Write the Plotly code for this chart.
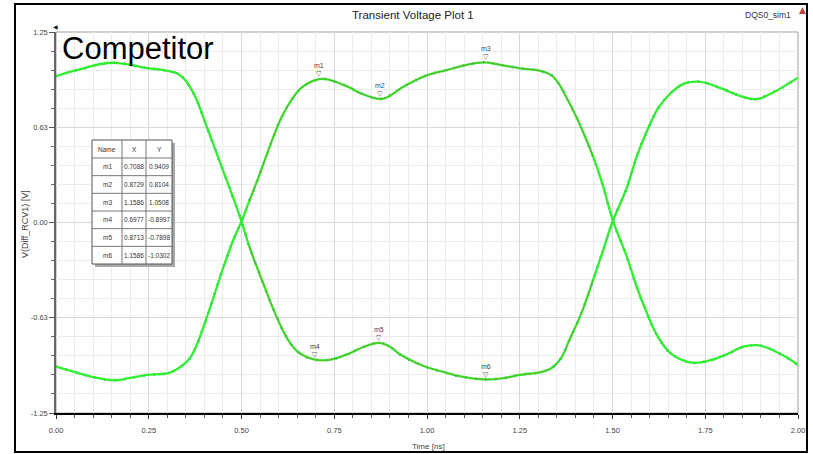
import plotly.graph_objects as go
import numpy as np

# ---------------- data ----------------
# Curve A: starts high, falls at 0.5 ns, rises at 1.5 ns
t_a = [0.00, 0.04, 0.08, 0.12, 0.16, 0.20, 0.24, 0.29, 0.32, 0.34, 0.361, 0.38, 0.406, 0.43,
       0.451, 0.478, 0.50, 0.52, 0.541, 0.565, 0.586, 0.61, 0.631, 0.655, 0.6977, 0.74, 0.79,
       0.83, 0.8713, 0.90, 0.93, 0.97, 1.00, 1.05, 1.09, 1.1586, 1.21, 1.25, 1.31, 1.336, 1.36,
       1.385, 1.417, 1.448, 1.475, 1.50, 1.538, 1.565, 1.592, 1.623, 1.655, 1.691, 1.727, 1.754,
       1.808, 1.844, 1.875, 1.898, 1.942, 1.97, 2.00]
v_a = [0.96, 0.99, 1.015, 1.04, 1.048, 1.035, 1.015, 1.0, 0.985, 0.955, 0.89, 0.80, 0.63, 0.475,
       0.335, 0.16, 0.007, -0.15, -0.29, -0.44, -0.57, -0.70, -0.79, -0.855, -0.8997, -0.90, -0.86,
       -0.815, -0.7898, -0.815, -0.87, -0.92, -0.95, -0.985, -1.01, -1.0302, -1.02, -1.0, -0.98,
       -0.955, -0.895, -0.765, -0.59, -0.375, -0.18, 0.005, 0.225, 0.43, 0.595, 0.75, 0.845, 0.91,
       0.925, 0.915, 0.865, 0.83, 0.81, 0.815, 0.865, 0.905, 0.95]

# Curve B: starts low, rises at 0.5 ns, falls at 1.5 ns
t_b = [0.00, 0.056, 0.10, 0.155, 0.20, 0.245, 0.30, 0.325, 0.345, 0.361, 0.38, 0.406, 0.428,
       0.451, 0.478, 0.50, 0.52, 0.541, 0.554, 0.577, 0.604, 0.631, 0.662, 0.7088, 0.739, 0.792,
       0.819, 0.8729, 0.891, 0.936, 0.999, 1.053, 1.107, 1.1586, 1.197, 1.251, 1.305, 1.336, 1.358,
       1.376, 1.403, 1.417, 1.448, 1.475, 1.502, 1.538, 1.565, 1.592, 1.619, 1.655, 1.713, 1.754,
       1.808, 1.852, 1.888, 1.915, 1.969, 2.00]
v_b = [-0.945, -0.985, -1.015, -1.035, -1.02, -1.0, -0.99, -0.965, -0.93, -0.89, -0.80, -0.625,
       -0.465, -0.295, -0.113, 0.007, 0.135, 0.265, 0.35, 0.505, 0.67, 0.79, 0.885, 0.9409, 0.935,
       0.885, 0.85, 0.8104, 0.82, 0.89, 0.965, 1.0, 1.035, 1.0508, 1.035, 1.012, 0.995, 0.965,
       0.90, 0.82, 0.69, 0.615, 0.43, 0.235, 0.005, -0.22, -0.42, -0.59, -0.735, -0.855, -0.92,
       -0.91, -0.865, -0.815, -0.805, -0.82, -0.885, -0.935]

marker_names = ["m1", "m2", "m3", "m4", "m5", "m6"]
marker_x = [0.7088, 0.8729, 1.1586, 0.6977, 0.8713, 1.1586]
marker_y = [0.9409, 0.8104, 1.0508, -0.8997, -0.7898, -1.0302]

x_tickvals = [0.0, 0.25, 0.5, 0.75, 1.0, 1.25, 1.5, 1.75, 2.0]
x_ticktext = ["0.00", "0.25", "0.50", "0.75", "1.00", "1.25", "1.50", "1.75", "2.00"]
y_tickvals = [-1.25, -0.625, 0.0, 0.625, 1.25]
y_ticktext = ["-1.25", "-0.63", "0.00", "0.63", "1.25"]

# ---------------- layout helpers ----------------
W, H = 813, 454
ML, MR, MT, MB = 56, 15, 32, 41
PW, PH = W - ML - MR, H - MT - MB


def px(x):
    return (x - ML) / PW


def py(y):
    return (H - MB - y) / PH


FONT = "Liberation Sans Narrow, Arial Narrow, Liberation Sans, Arial, sans-serif"
GREEN = "#2ff02f"
BLUE = "#3a5fd9"
RED = "#d0302a"

fig = go.Figure()

for tt, vv in [(t_a, v_a), (t_b, v_b)]:
    fig.add_trace(go.Scatter(x=tt, y=vv, mode="lines",
                             line=dict(color=BLUE, width=2.8, dash="1px,9px", shape="spline"),
                             hoverinfo="skip", showlegend=False))
    fig.add_trace(go.Scatter(x=tt, y=vv, mode="lines", line=dict(color=GREEN, width=2.3, shape="spline"),
                             showlegend=False))
    ta = np.array(tt)
    va = np.array(vv)
    sel = (ta >= 0.52) & (ta <= 1.47)
    fig.add_trace(go.Scatter(x=ta[sel], y=va[sel], mode="lines",
                             line=dict(color=RED, width=0.7, shape="spline"), opacity=0.45,
                             hoverinfo="skip", showlegend=False))

annotations = []
shapes = []

# marker triangles and labels
for n, mx, my in zip(marker_names, marker_x, marker_y):
    annotations.append(dict(x=mx, y=my, xref="x", yref="y", text="▽", showarrow=False,
                            yanchor="bottom", yshift=-1, font=dict(size=7, color="#555555", family="DejaVu Sans")))
    annotations.append(dict(x=mx, y=my, xref="x", yref="y", text=n, showarrow=False,
                            yanchor="bottom", yshift=8, font=dict(size=7, color="#444444", family=FONT)))

# plot border (top/right light gray)
shapes.append(dict(type="rect", xref="paper", yref="paper", x0=0, x1=1, y0=0, y1=1,
                   line=dict(color="#a0a0a0", width=1), layer="below"))
# outer black frame
shapes.append(dict(type="rect", xref="paper", yref="paper", x0=px(15), x1=px(807), y0=py(452), y1=py(4),
                   line=dict(color="black", width=2)))

# marker table
col_edges = [92, 122, 146, 172]
row_edges = [140, 158] + [158 + (264 - 158) * i / 6 for i in range(1, 7)]
shapes.append(dict(type="rect", xref="paper", yref="paper", x0=px(col_edges[0] + 3), x1=px(col_edges[-1] + 3),
                   y0=py(row_edges[-1] + 3), y1=py(row_edges[0] + 3), line=dict(width=0), fillcolor="#a8a8a8"))
shapes.append(dict(type="rect", xref="paper", yref="paper", x0=px(col_edges[0]), x1=px(col_edges[-1]),
                   y0=py(row_edges[-1]), y1=py(row_edges[0]), line=dict(color="#555555", width=1), fillcolor="white"))
for cx in col_edges[1:-1]:
    shapes.append(dict(type="line", xref="paper", yref="paper", x0=px(cx), x1=px(cx),
                       y0=py(row_edges[-1]), y1=py(row_edges[0]), line=dict(color="#777777", width=1)))
for ry in row_edges[1:-1]:
    shapes.append(dict(type="line", xref="paper", yref="paper", x0=px(col_edges[0]), x1=px(col_edges[-1]),
                       y0=py(ry), y1=py(ry), line=dict(color="#777777", width=1)))

table_rows = [["Name", "X", "Y"]] + [[n, f"{mx:.4f}", f"{my:.4f}"] for n, mx, my in zip(marker_names, marker_x, marker_y)]
for r, row in enumerate(table_rows):
    yc = (row_edges[r] + row_edges[r + 1]) / 2
    for c, txt in enumerate(row):
        xc = (col_edges[c] + col_edges[c + 1]) / 2
        annotations.append(dict(x=px(xc), y=py(yc), xref="paper", yref="paper", text=txt, showarrow=False,
                                xanchor="center", yanchor="middle", font=dict(size=6.5, color="#333333", family=FONT)))

# titles and texts
annotations += [
    dict(x=px(413), y=py(15), xref="paper", yref="paper", text="Transient Voltage Plot 1", showarrow=False,
         xanchor="center", yanchor="middle", font=dict(size=11.5, color="#222222", family=FONT)),
    dict(x=px(768), y=py(15), xref="paper", yref="paper", text="DQS0_sim1", showarrow=False,
         xanchor="center", yanchor="middle", font=dict(size=8.5, color="#333333", family=FONT)),
    dict(x=px(802), y=py(10), xref="paper", yref="paper", text="▲", showarrow=False,
         xanchor="center", yanchor="middle", font=dict(size=9, color="#b84040", family="DejaVu Sans")),
    dict(x=px(55), y=py(26), xref="paper", yref="paper", text="◀", showarrow=False,
         xanchor="center", yanchor="middle", font=dict(size=6, color="#111111", family="DejaVu Sans")),
    dict(x=px(60), y=py(48), xref="paper", yref="paper", text="Competitor", showarrow=False,
         xanchor="left", yanchor="middle", font=dict(size=31, color="black", family="Liberation Sans, Arial")),
    dict(x=px(25), y=py(224), xref="paper", yref="paper", text="V(Diff_RCV1) [V]", showarrow=False,
         textangle=-90, xanchor="center", yanchor="middle", font=dict(size=9, color="#444444", family=FONT)),
    dict(x=px(428), y=py(446), xref="paper", yref="paper", text="Time [ns]", showarrow=False,
         xanchor="center", yanchor="middle", font=dict(size=8, color="#444444", family=FONT)),
]

fig.update_layout(
    width=W, height=H,
    margin=dict(l=ML, r=MR, t=MT, b=MB, autoexpand=False),
    paper_bgcolor="white", plot_bgcolor="white",
    showlegend=False,
    annotations=annotations,
    shapes=shapes,
    xaxis=dict(range=[0, 2], tickmode="array", tickvals=x_tickvals, ticktext=x_ticktext, automargin=False,
               showgrid=True, gridcolor="#d8d8d8", gridwidth=1, zeroline=False,
               showline=True, linecolor="black", linewidth=1.5,
               ticks="outside", ticklen=4, tickcolor="#333333", ticklabelstandoff=5,
               tickfont=dict(size=7.5, color="#444444", family=FONT),
               minor=dict(tickmode="linear", tick0=0, dtick=0.05, ticks="outside", ticklen=3,
                          tickcolor="#555555", showgrid=True, gridcolor="#ececec", gridwidth=1)),
    yaxis=dict(range=[-1.25, 1.25], tickmode="array", tickvals=y_tickvals, ticktext=y_ticktext, automargin=False,
               showgrid=True, gridcolor="#d8d8d8", gridwidth=1, zeroline=False,
               showline=True, linecolor="#666666", linewidth=1.5,
               ticks="outside", ticklen=5, tickcolor="#555555",
               tickfont=dict(size=7.5, color="#444444", family=FONT),
               minor=dict(tickmode="linear", tick0=0, dtick=0.125, ticks="outside", ticklen=3,
                          tickcolor="#666666", showgrid=True, gridcolor="#ececec", gridwidth=1)),
)

fig.write_html("out.html")
